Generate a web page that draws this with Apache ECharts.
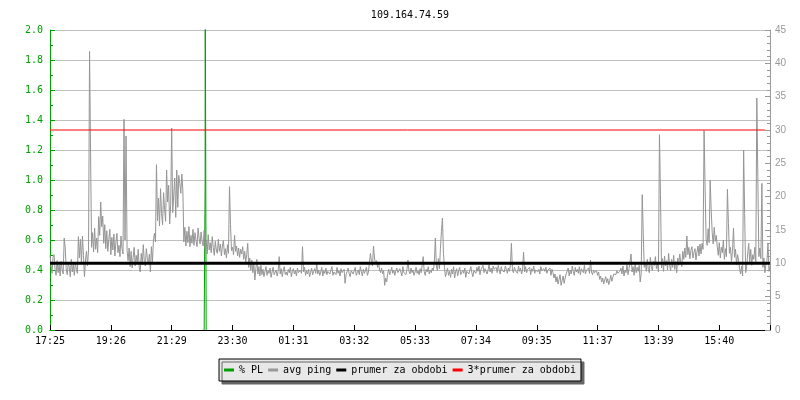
<!DOCTYPE html>
<html>
<head>
<meta charset="utf-8">
<script src="https://cdn.jsdelivr.net/npm/echarts@6/dist/echarts.min.js"></script>
<style>html,body{margin:0;padding:0;background:#fff;}#c{width:800px;height:400px;}</style>
</head>
<body>
<div id="c"></div>
<script>
// ---- data ----
const chartTitle = '109.164.74.59';
const tickLabels = ['17:25','19:26','21:29','23:30','01:31','03:32','05:33','07:34','09:35','11:37','13:39','15:40'];
const labelStep = 60; // samples between labelled ticks

// avg ping (ms), one value per sample
const pingValues = [
  11.2, 11.5, 8.5, 10.9, 11.3, 9.1, 8.2, 10.4, 8.6, 9.8,
  8.1, 10.3, 9.0, 8.4, 13.8, 12.3, 9.2, 8.3, 10.1, 9.4,
  8.0, 10.6, 8.7, 9.9, 8.2, 10.2, 9.1, 8.5, 14.0, 10.8,
  13.6, 9.9, 14.1, 11.2, 8.0, 10.5, 11.8, 9.6, 12.0, 41.8,
  26.5, 12.4, 14.6, 11.7, 15.3, 12.1, 13.8, 11.6, 17.0, 14.2,
  19.2, 15.5, 17.1, 13.0, 15.8, 12.2, 14.9, 11.8, 13.6, 15.1,
  11.3, 13.9, 12.0, 14.4, 11.1, 13.2, 14.5, 11.6, 12.7, 11.0,
  14.1, 12.2, 11.4, 31.6, 13.5, 29.1, 11.9, 10.4, 12.3, 9.5,
  11.8, 9.3, 10.9, 12.4, 9.6, 11.2, 10.0, 12.1, 9.4, 8.7,
  11.5, 9.8, 12.8, 10.3, 9.6, 12.2, 10.7, 9.9, 11.4, 8.7,
  12.5, 10.1, 13.4, 14.5, 13.2, 24.8, 16.4, 19.8, 15.6, 21.2,
  17.5, 15.8, 20.6, 18.1, 16.3, 24.0, 19.2, 21.7, 15.9, 18.8,
  30.3, 17.6, 20.2, 22.8, 16.9, 24.0, 18.4, 23.2, 22.0, 20.5,
  23.4, 21.0, 13.2, 15.4, 12.6, 14.8, 13.1, 15.5, 12.5, 14.2,
  13.0, 15.1, 12.7, 14.6, 13.4, 12.5, 15.3, 13.8, 12.9, 14.7,
  13.3, 12.6, 14.9, 12.2, 13.5, 11.4, 14.3, 12.0, 13.1, 11.6,
  14.0, 12.4, 11.2, 13.3, 12.0, 11.5, 13.6, 11.8, 12.9, 11.1,
  12.6, 13.4, 11.3, 12.2, 10.8, 12.8, 11.5, 21.5, 15.8, 11.9,
  12.4, 11.3, 14.2, 11.8, 12.6, 11.1, 12.3, 10.9, 12.1, 11.4,
  12.5, 10.6, 11.8, 10.2, 11.3, 13.0, 9.4, 10.8, 9.0, 10.5,
  8.6, 9.9, 7.5, 9.2, 10.6, 8.4, 9.5, 8.1, 9.7, 8.3,
  9.1, 8.0, 8.8, 9.5, 8.2, 8.9, 8.5, 9.3, 7.9, 8.7,
  9.4, 8.3, 8.6, 9.0, 8.1, 8.8, 11.0, 8.4, 9.2, 8.0,
  8.9, 9.5, 8.3, 8.7, 8.2, 9.1, 8.6, 9.4, 8.0, 8.8,
  9.2, 8.4, 8.9, 8.1, 9.3, 8.6, 8.3, 9.0, 8.5, 12.5,
  8.7, 9.4, 8.2, 8.9, 8.4, 9.1, 8.0, 8.6, 9.3, 8.3,
  8.8, 9.2, 8.5, 10.0, 8.4, 9.0, 8.2, 8.7, 9.4, 8.1,
  8.9, 8.5, 9.3, 8.3, 8.8, 9.1, 8.4, 8.6, 9.5, 8.2,
  8.7, 9.0, 8.3, 9.4, 8.5, 8.9, 8.1, 9.2, 8.6, 8.4,
  9.1, 7.0, 8.3, 8.8, 9.3, 8.5, 8.0, 8.9, 9.2, 8.4,
  8.7, 9.4, 8.2, 8.6, 9.0, 8.3, 9.5, 8.8, 8.1, 9.1,
  8.5, 8.9, 9.4, 8.2, 8.7, 9.0, 11.5, 10.3, 9.6, 12.6,
  10.8, 9.9, 10.4, 9.4, 10.1, 9.0, 8.6, 9.3, 8.4, 8.9,
  6.7, 7.8, 7.2, 8.5, 9.1, 8.3, 8.8, 9.4, 8.5, 9.0,
  8.2, 8.9, 9.3, 8.6, 8.4, 9.2, 8.7, 8.1, 9.5, 8.6,
  8.9, 8.3, 9.1, 10.5, 8.8, 8.4, 9.3, 8.6, 9.0, 8.2,
  8.7, 9.4, 8.5, 8.9, 8.3, 9.2, 8.6, 9.7, 11.0, 8.8,
  8.2, 9.1, 8.7, 9.5, 8.4, 9.0, 8.6, 9.3, 8.9, 10.1,
  13.8, 9.6, 8.9, 10.7, 9.2, 12.2, 14.8, 16.8, 11.5, 9.4,
  8.0, 8.6, 9.3, 8.2, 8.8, 7.9, 9.1, 8.4, 9.5, 7.8,
  8.7, 9.2, 8.1, 8.9, 9.4, 8.3, 8.0, 9.0, 8.5, 9.3,
  7.9, 8.8, 9.1, 8.4, 8.2, 9.5, 8.6, 8.0, 8.9, 9.2,
  8.5, 9.4, 8.8, 9.6, 8.3, 9.1, 8.9, 9.7, 8.6, 9.2,
  9.5, 8.4, 9.0, 9.8, 8.7, 9.3, 8.5, 9.6, 9.1, 8.8,
  9.4, 8.6, 9.7, 9.0, 8.4, 9.5, 8.9, 9.2, 8.7, 9.6,
  9.1, 8.5, 9.3, 8.8, 9.7, 13.0, 9.0, 8.6, 9.4, 8.9,
  9.2, 8.5, 9.6, 8.8, 9.3, 8.4, 9.0, 11.7, 8.7, 9.5,
  8.6, 9.1, 8.9, 9.4, 8.3, 9.2, 8.8, 9.6, 8.5, 9.0,
  9.3, 8.7, 9.1, 8.4, 9.5, 8.9, 8.6, 9.2, 8.8, 9.4,
  8.5, 9.0, 8.7, 9.3, 8.2, 9.1, 8.6, 7.8, 8.4, 7.2,
  8.0, 6.9, 7.6, 8.3, 6.7, 7.4, 8.1, 7.0, 7.8, 8.4,
  8.6, 9.3, 8.1, 9.0, 8.4, 9.6, 8.8, 8.2, 9.4, 8.7,
  9.1, 8.5, 9.5, 8.3, 9.2, 8.9, 8.6, 9.7, 8.4, 9.0,
  8.8, 9.3, 8.5, 10.5, 8.7, 8.3, 9.0, 8.6, 8.4, 8.9,
  8.2, 8.7, 7.6, 8.1, 7.2, 7.8, 6.9, 7.5, 8.0, 7.1,
  7.7, 6.8, 7.4, 8.2, 7.3, 7.9, 8.4, 8.7, 8.3, 8.9,
  8.5, 8.2, 8.8, 9.3, 8.4, 9.6, 8.1, 9.0, 8.6, 9.8,
  8.3, 9.2, 8.9, 11.4, 8.7, 9.5, 8.2, 9.9, 8.6, 9.4,
  8.8, 9.7, 7.2, 8.5, 20.3, 14.5, 9.4, 10.2, 8.8, 10.6,
  9.1, 8.6, 10.9, 9.5, 8.9, 10.3, 9.7, 11.0, 9.2, 10.1,
  8.7, 29.3, 20.3, 9.3, 10.7, 8.8, 11.1, 9.6, 10.4, 9.0,
  11.5, 9.8, 8.9, 10.6, 9.4, 11.2, 9.1, 10.3, 8.6, 10.8,
  9.7, 11.4, 10.2, 9.5, 11.8, 10.6, 12.3, 10.9, 14.1, 11.3,
  12.4, 10.7, 11.9, 12.5, 10.8, 11.6, 12.2, 10.5, 11.7, 12.6,
  11.1, 12.9, 11.4, 13.0, 12.1, 29.9, 21.3, 13.6, 12.7, 15.2,
  13.1, 22.5, 18.0, 14.6, 12.9, 15.4, 13.3, 14.2, 12.5, 11.2,
  13.1, 10.8, 12.4, 11.6, 13.5, 10.6, 12.2, 11.0, 21.1, 16.0,
  11.5, 12.4, 10.3, 11.8, 15.3, 10.9, 12.1, 9.8, 11.3, 10.5,
  9.2, 8.4, 9.6, 8.1, 27.0, 17.5, 8.6, 9.5, 11.4, 13.0,
  10.2, 12.1, 9.7, 11.3, 10.6, 12.4, 9.9, 34.8, 23.0, 11.0,
  12.3, 10.7, 22.0, 9.4, 10.8, 8.6, 9.9, 10.4, 13.0, 8.8,
  9.6
];

// packet loss (%) samples around the single loss event (sample index, value)
const plTimes  = [152.0, 153.0, 153.0, 154.0];
const plValues = [0, 1.0, 2.6, 0];

// period average of ping (ms)
const prumer = 10.0;
const redEnd = 705; // last sample covered by the 3*average line

// ---- chart ----
const GREEN = '#00a000';
const MONO = 'DejaVu Sans Mono';
const lastIdx = pingValues.length - 1;

const chart = echarts.init(document.getElementById('c'), null, {renderer: 'canvas'});
chart.setOption({
  animation: false,
  backgroundColor: '#ffffff',
  title: {
    text: chartTitle,
    left: 405, top: 5, textAlign: 'center',
    textStyle: {fontFamily: MONO, fontSize: 10, fontWeight: 'normal', color: '#000'}
  },
  legend: {
    data: ['% PL', 'avg ping', 'prumer za obdobi', '3*prumer za obdobi'],
    left: 'center', top: 359,
    icon: 'rect', itemWidth: 10, itemHeight: 3, itemGap: 5,
    padding: [6, 5, 6, 5],
    backgroundColor: '#e8e8e8', borderColor: '#000', borderWidth: 1,
    shadowColor: '#666', shadowBlur: 0, shadowOffsetX: 3, shadowOffsetY: 3,
    textStyle: {fontFamily: MONO, fontSize: 10, color: '#000'},
    selectedMode: false
  },
  grid: {left: 50, right: 30, top: 30, bottom: 70, containLabel: false},
  xAxis: {
    type: 'value', min: 0, max: lastIdx, interval: labelStep,
    axisLine: {show: true, lineStyle: {color: '#000', width: 1}},
    axisTick: {show: true, inside: true, length: 5, lineStyle: {color: '#000'}},
    axisLabel: {
      margin: 6, color: '#000', fontFamily: MONO, fontSize: 10,
      formatter: v => (v % labelStep === 0 && tickLabels[v / labelStep]) ? tickLabels[v / labelStep] : ''
    },
    splitLine: {show: false}
  },
  yAxis: [
    {
      type: 'value', min: 0, max: 2, interval: 0.2, position: 'left',
      axisLine: {show: true, lineStyle: {color: GREEN, width: 1}},
      axisTick: {show: true, inside: true, length: 5, lineStyle: {color: GREEN}},
      minorTick: {show: true, splitNumber: 2, length: 3, lineStyle: {color: GREEN}},
      axisLabel: {margin: 7, color: GREEN, fontFamily: MONO, fontSize: 10, formatter: v => v.toFixed(1)},
      splitLine: {show: true, lineStyle: {color: '#c0c0c0', width: 1}}
    },
    {
      type: 'value', min: 0, max: 45, interval: 5, position: 'right',
      axisLine: {show: true, lineStyle: {color: '#999', width: 1}},
      axisTick: {show: true, inside: true, length: 5, lineStyle: {color: '#999'}},
      minorTick: {show: true, splitNumber: 5, length: 3, lineStyle: {color: '#999'}},
      axisLabel: {margin: 5, color: '#999', fontFamily: 'Liberation Sans', fontSize: 10},
      splitLine: {show: false}
    }
  ],
  series: [
    {
      name: '% PL', type: 'line', yAxisIndex: 0, color: GREEN,
      data: plTimes.map((t, i) => [t, plValues[i]]),
      showSymbol: false, symbol: 'none', silent: true,
      lineStyle: {color: GREEN, width: 1}
    },
    {
      name: 'avg ping', type: 'line', yAxisIndex: 1, color: '#999',
      data: pingValues.map((v, i) => [i, v]),
      showSymbol: false, symbol: 'none', silent: true,
      lineStyle: {color: '#959595', width: 1}
    },
    {
      name: 'prumer za obdobi', type: 'line', yAxisIndex: 1, color: '#000',
      data: [[0, prumer], [lastIdx, prumer]],
      showSymbol: false, symbol: 'none', silent: true,
      lineStyle: {color: '#000', width: 3}
    },
    {
      name: '3*prumer za obdobi', type: 'line', yAxisIndex: 1, color: '#ff0000',
      data: [[0, 3 * prumer], [redEnd, 3 * prumer]],
      showSymbol: false, symbol: 'none', silent: true,
      lineStyle: {color: '#ff0000', width: 1}
    }
  ]
});
</script>
</body>
</html>
